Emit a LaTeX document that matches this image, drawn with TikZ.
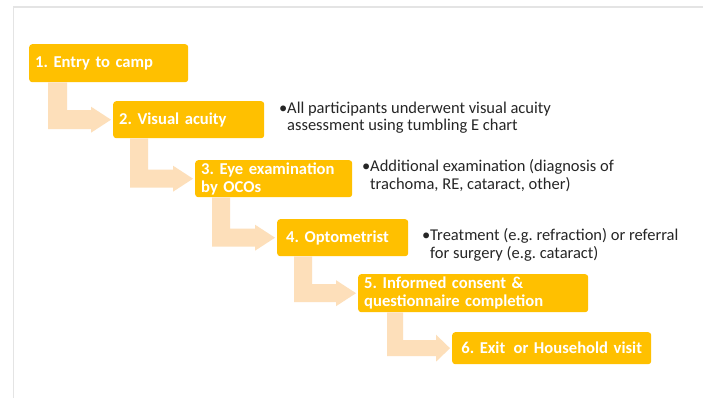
\documentclass[tikz,border=0pt]{standalone}
\usepackage{fontspec}
\setmainfont{Carlito}
\usetikzlibrary{calc}

\definecolor{stepgold}{HTML}{FFC000}
\definecolor{flowpeach}{HTML}{FDDFBA}
\definecolor{notegray}{HTML}{262626}
\definecolor{framegray}{HTML}{E4E4E4}

\tikzset{
  stepbox/.style={fill=stepgold, rounded corners=3pt, text=white,
    font=\bfseries\fontsize{16.6}{18}\selectfont\frenchspacing, anchor=north west,
    inner xsep=6pt, inner ysep=0pt, align=left},
  note/.style={text=notegray, font=\fontsize{16.5}{17.5}\selectfont\frenchspacing,
    anchor=north west, inner sep=0pt, align=left},
  flowarrow/.style={fill=flowpeach},
  frameline/.style={draw=framegray, line width=1.5pt}
}

% bent arrow from the bottom of one step box to the west side of the next
% #1 from node, #2 to node, #3 bar offset, #4 thickness, #5 head half-height, #6 head length
\newcommand{\bentflow}[6]{%
  \fill[flowarrow] let \p1=(#1.south west), \p2=(#2.west) in
    (\x1+#3pt,\y1) -- (\x1+#3pt+#4pt,\y1) -- (\x1+#3pt+#4pt,\y2+#4pt/2)
    -- (\x2-2pt-#6pt,\y2+#4pt/2) -- (\x2-2pt-#6pt,\y2+#5pt) -- (\x2-2pt,\y2)
    -- (\x2-2pt-#6pt,\y2-#5pt) -- (\x2-2pt-#6pt,\y2-#4pt/2)
    -- (\x1+#3pt,\y2-#4pt/2) -- cycle;}

\begin{document}
\begin{tikzpicture}[x=1pt,y=-1pt]
  \useasboundingbox[fill=white] (0,0) rectangle (703,398);

  % thin frame along the top and left
  \draw[frameline] (703,7) -- (13.5,7) -- (13.5,398);

  % step boxes
  \node[stepbox, minimum width=159pt, minimum height=38pt, text width=147pt] (b1) at (29,44) {1. Entry to camp};
  \node[stepbox, minimum width=151pt, minimum height=37pt, text width=139pt] (b2) at (113,101) {2. Visual acuity};
  \node[stepbox, minimum width=157pt, minimum height=37pt, text width=145pt] (b3) at (195,160) {3. Eye examination\\by OCOs};
  \node[stepbox, inner xsep=9pt, minimum width=131pt, minimum height=37pt, text width=113pt] (b4) at (277,219) {4. Optometrist};
  \node[stepbox, minimum width=230pt, minimum height=38pt, text width=218pt] (b5) at (358,274) {5. Informed consent \&\\questionnaire completion};
  \node[stepbox, align=center, minimum width=199pt, minimum height=32pt, text width=187pt] (b6) at (452,332) {6. Exit\, or Household visit};

  % connecting bent arrows
  \bentflow{b1}{b2}{19}{19}{13}{20}
  \bentflow{b2}{b3}{17}{18}{13}{20}
  \bentflow{b3}{b4}{17}{18}{13}{20}
  \bentflow{b4}{b5}{17}{18}{13}{20}
  \bentflow{b5}{b6}{29}{16}{13.5}{14}

  % side notes
  \node[note] (n2) at (279,101.5) {\makebox[8pt][l]{•}All participants underwent visual acuity\\\hspace*{8pt}assessment using tumbling E chart};
  \node[note] (n3) at (362,159.5) {\makebox[8pt][l]{•}Additional examination (diagnosis of\\\hspace*{8pt}trachoma, RE, cataract, other)};
  \node[note] (n4) at (422,228.5) {\makebox[8pt][l]{•}Treatment (e.g. refraction) or referral\\\hspace*{8pt}for surgery (e.g. cataract)};
\end{tikzpicture}
\end{document}
